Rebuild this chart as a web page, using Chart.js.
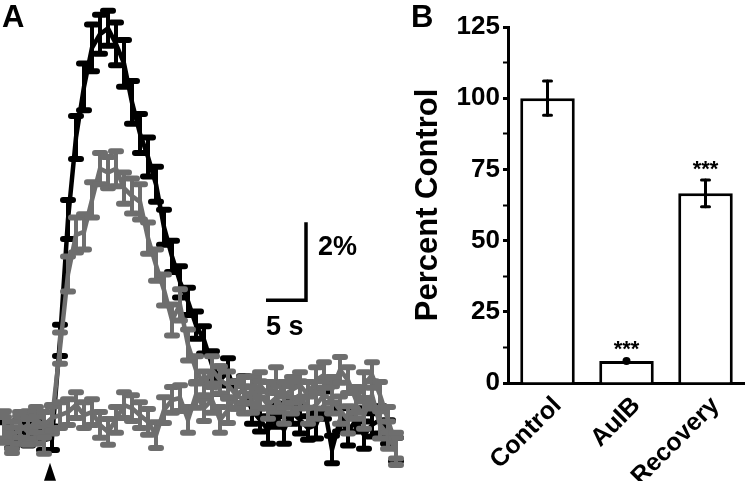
<!DOCTYPE html>
<html><head><meta charset="utf-8">
<script src="https://cdn.jsdelivr.net/npm/chart.js@4/dist/chart.umd.min.js"></script>
<style>
html,body{margin:0;padding:0;background:#fff;}
#wrap{position:relative;width:745px;height:481px;overflow:hidden;background:#fff;}
#cA{position:absolute;left:0;top:0;}
#cB{position:absolute;left:405px;top:0;}
</style></head>
<body><div id="wrap"><canvas id="cA" width="405" height="481"></canvas><canvas id="cB" width="340" height="481"></canvas></div>
<script>
// ---------- Panel A: time course (% change), one point per second ----------
const seconds = [0,1,2,3,4,5,6,7,8,9,10,11,12,13,14,15,16,17,18,19,20,21,22,23,24,25,26,27,28,29,30,31,32,33,34,35,36,37,38,39,40,41,42,43,44,45,46,47,48,49];
const controlTrace = [-0.05,-0.21,0,-0.15,-0.05,-0.26,-0.21,2.3,5.4,7.5,8.8,9.8,10.15,10.3,9.9,9.4,8.4,7.6,7.0,6.3,5.2,4.45,3.8,3.3,2.69,2.31,1.67,1.28,1.49,0.90,1.03,0.51,0.26,0,0.38,0,0.46,0.26,0.05,0.13,0.64,-0.5,0.26,-0.05,0.26,-0.13,0.13,0.26,-0.05,-0.5];
const controlErr = [0.25,0.25,0.25,0.25,0.25,0.25,0.3,0.4,0.5,0.55,0.6,0.6,0.5,0.45,0.55,0.6,0.55,0.5,0.5,0.45,0.45,0.4,0.4,0.35,0.35,0.35,0.35,0.35,0.35,0.35,0.35,0.35,0.3,0.35,0.3,0.35,0.3,0.35,0.3,0.35,0.35,0.35,0.3,0.35,0.3,0.35,0.3,0.35,0.3,0.3];
const recoveryTrace = [0.13,-0.13,0,0.13,0,-0.26,0.26,2.1,4.0,5.0,5.08,5.90,6.7,6.6,6.7,6.2,6.0,5.85,4.92,4.23,3.59,2.82,3.21,2.18,1.54,1.15,1.54,1.28,1.15,0.90,0.77,1.03,0.90,0.64,0.82,0.51,0.77,0.90,0.51,0.64,0.90,0.77,0.51,0.26,0.64,0.38,0.90,0.13,-0.13,-0.55];
const recoveryErr = [0.35,0.35,0.35,0.35,0.35,0.35,0.35,0.4,0.45,0.45,0.45,0.45,0.4,0.4,0.45,0.4,0.45,0.45,0.4,0.4,0.4,0.4,0.4,0.4,0.35,0.35,0.35,0.35,0.35,0.35,0.35,0.35,0.35,0.35,0.35,0.35,0.35,0.35,0.35,0.35,0.35,0.35,0.35,0.35,0.35,0.35,0.35,0.35,0.35,0.35];
const toxinTrace = [0,-0.26,0.13,-0.05,0.26,0.13,0.31,0.38,0.46,0.64,0.38,0.46,0.13,-0.05,0.26,0.64,0.56,0.38,0.21,-0.13,0.51,0.77,0.82,0.26,0.90,0.56,0.77,0.26,0.51,0.90,1.03,0.77,1.15,0.90,1.28,0.90,1.03,1.15,0.90,1.28,1.41,1.03,1.54,1.28,0.77,1.15,1.41,0.90,0.26,-0.4];
const toxinErr = [0.33,0.33,0.33,0.33,0.33,0.33,0.33,0.33,0.33,0.33,0.33,0.33,0.33,0.33,0.33,0.33,0.33,0.33,0.33,0.33,0.33,0.33,0.33,0.33,0.33,0.33,0.33,0.33,0.33,0.33,0.33,0.33,0.33,0.33,0.33,0.33,0.33,0.33,0.33,0.33,0.33,0.33,0.33,0.33,0.33,0.33,0.33,0.33,0.33,0.33];
const stimulusTime = 5.75;
const scaleBarSeconds = 5;
const scaleBarPercent = 2;

// ---------- Panel B: summary ----------
const groups = ['Control','AuIB','Recovery'];
const percentControl = [100, 7.7, 66.6];
const percentSem = [6, 0.5, 4.7];
const significance = ['', '***', '***'];
const yTicksB = [0,25,50,75,100,125];

const FONT = '"Liberation Sans", Arial, sans-serif';
const GRAY = '#6e6e6e';

function pts(ys){ return seconds.map((t,i)=>({x:t,y:ys[i]})); }

const errPluginA = {
  id:'errA',
  afterDatasetDraw(chart,args){
    const ds = chart.data.datasets[args.index];
    if(!ds.errors) return;
    const ctx=chart.ctx, xs=chart.scales.x, ys=chart.scales.y;
    ctx.save();
    ctx.strokeStyle=ds.borderColor; ctx.lineCap='round';
    ds.data.forEach((p,i)=>{
      const e=ds.errors[i];
      const x=xs.getPixelForValue(p.x);
      const y1=ys.getPixelForValue(p.y+e), y2=ys.getPixelForValue(p.y-e);
      ctx.lineWidth=4;
      ctx.beginPath(); ctx.moveTo(x,y1); ctx.lineTo(x,y2); ctx.stroke();
      ctx.lineWidth=6;
      ctx.beginPath(); ctx.moveTo(x-5,y1); ctx.lineTo(x+5,y1); ctx.moveTo(x-5,y2); ctx.lineTo(x+5,y2); ctx.stroke();
    });
    ctx.restore();
  },
  afterDraw(chart){
    const ctx=chart.ctx, xs=chart.scales.x, ys=chart.scales.y;
    ctx.save();
    ctx.fillStyle='#000'; ctx.font='bold 31px '+FONT; ctx.textBaseline='top'; ctx.textAlign='left';
    ctx.fillText('A',2,3);
    const sx=xs.getPixelForValue(stimulusTime), sy=ys.getPixelForValue(-1.07);
    ctx.beginPath(); ctx.moveTo(sx,sy-9); ctx.lineTo(sx+6,sy+9); ctx.lineTo(sx-6,sy+9); ctx.closePath(); ctx.fill();
    const x0=xs.getPixelForValue(32.75), x1=xs.getPixelForValue(32.75+scaleBarSeconds);
    const y0=ys.getPixelForValue(3.33), y1=ys.getPixelForValue(3.33+scaleBarPercent);
    ctx.strokeStyle='#000'; ctx.lineWidth=3.5; ctx.lineCap='butt';
    ctx.beginPath(); ctx.moveTo(x0,y0); ctx.lineTo(x1,y0); ctx.lineTo(x1,y1); ctx.stroke();
    ctx.font='bold 27px '+FONT; ctx.textBaseline='alphabetic';
    ctx.fillText(scaleBarPercent+'%', x1+12, y1+33);
    ctx.fillText(scaleBarSeconds+' s', x0, y0+35);
    ctx.restore();
  }
};

new Chart(document.getElementById('cA'),{
  type:'line',
  data:{datasets:[
    {label:'AuIB', data:pts(toxinTrace), errors:toxinErr, borderColor:GRAY, borderWidth:4.5, pointRadius:0, tension:0, clip:false},
    {label:'Recovery', data:pts(recoveryTrace), errors:recoveryErr, borderColor:GRAY, borderWidth:4.5, pointRadius:0, tension:0, clip:false},
    {label:'Control', data:pts(controlTrace), errors:controlErr, borderColor:'#000', borderWidth:4.5, pointRadius:0, tension:0, clip:false}
  ]},
  options:{responsive:false, animation:false, layout:{padding:0},
    plugins:{legend:{display:false}, tooltip:{enabled:false}},
    scales:{x:{type:'linear', display:false, min:-0.5, max:50.125},
            y:{type:'linear', display:false, min:-1.308, max:11.026}}},
  plugins:[errPluginA]
});

const errPluginB = {
  id:'errB',
  afterDatasetsDraw(chart){
    const ctx=chart.ctx, xs=chart.scales.x, ys=chart.scales.y;
    ctx.save();
    ctx.strokeStyle='#000'; ctx.fillStyle='#000'; ctx.lineCap='round';
    percentControl.forEach((v,i)=>{
      const x=xs.getPixelForValue(i);
      const yt=ys.getPixelForValue(v+percentSem[i]), yb=ys.getPixelForValue(v-percentSem[i]);
      if(yb-yt<4){ ctx.beginPath(); ctx.arc(x,ys.getPixelForValue(v),4,0,Math.PI*2); ctx.fill(); }
      else {
        ctx.lineWidth=3;
        ctx.beginPath(); ctx.moveTo(x,yt); ctx.lineTo(x,yb); ctx.stroke();
        ctx.beginPath(); ctx.moveTo(x-4,yt); ctx.lineTo(x+4,yt); ctx.moveTo(x-4,yb); ctx.lineTo(x+4,yb); ctx.stroke();
      }
      if(significance[i]){
        ctx.font='bold 22px '+FONT; ctx.textAlign='center'; ctx.textBaseline='alphabetic';
        ctx.fillText(significance[i], x, yt-4);
      }
    });
    ctx.font='bold 31px '+FONT; ctx.textAlign='left'; ctx.textBaseline='top';
    ctx.fillText('B',6,3);
    ctx.restore();
  }
};

new Chart(document.getElementById('cB'),{
  type:'bar',
  data:{labels:groups, datasets:[{data:percentControl, backgroundColor:'#fff', borderColor:'#000', borderWidth:3, barPercentage:0.69, categoryPercentage:1}]},
  options:{responsive:false, animation:false, layout:{padding:{top:27,right:0,left:0,bottom:0}},
    plugins:{legend:{display:false}, tooltip:{enabled:false}},
    scales:{
      x:{grid:{display:false}, border:{display:true,color:'#000',width:3},
         ticks:{color:'#000', font:{family:FONT, weight:'bold', size:25}, minRotation:45, maxRotation:45, padding:0, labelOffset:10},
         afterFit(s){ s.height=98; }},
      y:{min:0, max:125,
         ticks:{stepSize:12.5, autoSkip:false, color:'#000', padding:3, font:{family:FONT, weight:'bold', size:26},
                callback:(v)=> yTicksB.includes(v) ? String(v) : ''},
         grid:{drawOnChartArea:false, drawTicks:true, tickLength:5, tickColor:'#000', tickWidth:(c)=> (c.tick && yTicksB.includes(c.tick.value)) ? 3 : 2},
         border:{display:true,color:'#000',width:3},
         title:{display:true, text:'Percent Control', color:'#000', padding:{top:5,bottom:0}, font:{family:FONT, weight:'bold', size:31}},
         afterFit(s){ s.width=103; }}
    }},
  plugins:[errPluginB]
});
</script>
</body></html>
